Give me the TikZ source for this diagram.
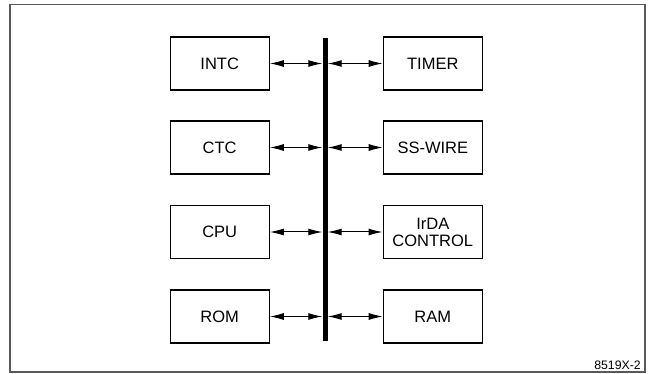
\documentclass[tikz,border=0pt]{standalone}
\usepackage{fontspec}
\setmainfont{Liberation Sans}
\usetikzlibrary{arrows.meta}
\begin{document}
\begin{tikzpicture}[x=1pt,y=-1pt,
  block/.style={draw,line width=1.2pt,minimum width=99pt,minimum height=53pt,
    inner sep=0pt,align=center,font=\fontsize{16.5}{17}\selectfont},
  link/.style={{Latex[length=14pt,width=7pt]}-{Latex[length=14pt,width=7pt]},
    line width=1pt}]
  \useasboundingbox (0,0) rectangle (649,374);
  \draw[line width=1.5pt,black!65] (10,4.5) rectangle (645,372);
  % bus
  \node[fill,minimum width=5pt,minimum height=303pt,inner sep=0pt] (bus) at (325,189.5) {};
  % left column
  \node[block] (intc) at (219.7,63.5) {INTC};
  \node[block] (ctc) at (219.7,147.5) {CTC};
  \node[block] (cpu) at (219.7,232) {CPU};
  \node[block] (rom) at (219.7,316.5) {ROM};
  % right column
  \node[block] (timer) at (432.8,63.5) {TIMER};
  \node[block] (sswire) at (432.8,147.5) {SS-WIRE};
  \node[block,line width=1.6pt] (irda) at (432.8,232) {IrDA\\CONTROL};
  \node[block] (ram) at (432.8,316.5) {RAM};
  \foreach \n in {intc,ctc,cpu,rom}
    \draw[link] (\n.east) -- (\n.east -| bus.west);
  \foreach \n in {timer,sswire,irda,ram}
    \draw[link] (bus.east |- \n.west) -- (\n.west);
  \node[anchor=east,inner sep=0pt,font=\fontsize{12.3}{14}\selectfont] (tag) at (641,365.5) {8519X-2};
\end{tikzpicture}
\end{document}
